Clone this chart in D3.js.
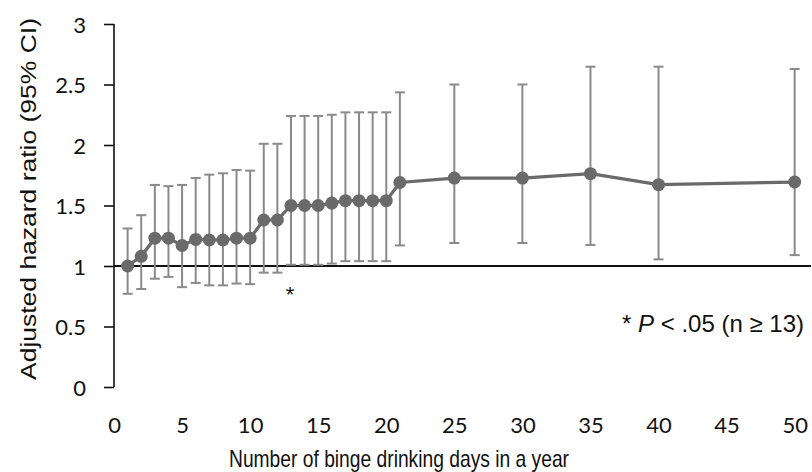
<!DOCTYPE html>
<html>
<head>
  <meta charset="utf-8">
  <title>Adjusted hazard ratio by binge drinking days</title>
  <script src="https://d3js.org/d3.v7.min.js"></script>
  <style>
    body { margin: 0; background: #fff; }
  </style>
</head>
<body>
  <div id="chart"></div>

  <script>
    // Data
    const days  = [1, 2, 3, 4, 5, 6, 7, 8, 9, 10, 11, 12, 13, 14, 15, 16, 17, 18, 19, 20, 21, 25, 30, 35, 40, 50];
    const hr    = [1.00, 1.08, 1.23, 1.23, 1.17, 1.22, 1.215, 1.215, 1.23, 1.23, 1.38, 1.38, 1.50, 1.50, 1.50, 1.52, 1.54, 1.54, 1.54, 1.54, 1.69, 1.727, 1.727, 1.763, 1.672, 1.694];
    const lower = [0.77, 0.81, 0.895, 0.91, 0.825, 0.86, 0.84, 0.84, 0.855, 0.85, 0.945, 0.945, 1.01, 1.01, 1.01, 1.02, 1.04, 1.04, 1.04, 1.04, 1.17, 1.19, 1.19, 1.174, 1.055, 1.09];
    const upper = [1.31, 1.42, 1.67, 1.66, 1.67, 1.727, 1.755, 1.766, 1.793, 1.788, 2.01, 2.01, 2.24, 2.24, 2.24, 2.25, 2.27, 2.27, 2.27, 2.27, 2.435, 2.50, 2.50, 2.647, 2.647, 2.628];
    const xTicks = [0, 5, 10, 15, 20, 25, 30, 35, 40, 45, 50];
    const yTicks = [0, 0.5, 1, 1.5, 2, 2.5, 3];
    const sigDay = 13;

    const data = days.map((d, i) => ({ day: d, hr: hr[i], lo: lower[i], hi: upper[i] }));

    const W = 812, H = 472;
    const svg = d3.select("#chart").append("svg")
      .attr("width", W).attr("height", H);

    const x = d3.scaleLinear().domain([0, 51.2]).range([114, 811]);
    const y = d3.scaleLinear().domain([0, 3]).range([387, 24]);

    const tickFont = "Lato, 'Open Sans', sans-serif";
    const textFont = "'Liberation Sans', Arial, sans-serif";

    // y axis
    const yAxis = svg.append("g")
      .attr("transform", "translate(" + x(0) + ",0)")
      .call(d3.axisLeft(y).tickValues(yTicks).tickSize(10).tickPadding(18)
        .tickFormat(d3.format("")));
    yAxis.select(".domain").attr("stroke", "#111").attr("stroke-width", 1.6)
      .attr("d", "M0," + y(3) + "V" + y(0));
    yAxis.selectAll(".tick line").attr("stroke", "#111").attr("stroke-width", 1.6);
    yAxis.selectAll(".tick text").attr("font-family", tickFont).attr("font-size", 22)
      .attr("fill", "#111").attr("dy", "0.38em");

    // x axis (labels only)
    const xAxis = svg.append("g")
      .attr("transform", "translate(0," + y(0) + ")")
      .call(d3.axisBottom(x).tickValues(xTicks).tickSize(0).tickPadding(30));
    xAxis.select(".domain").remove();
    xAxis.selectAll(".tick text").attr("font-family", tickFont).attr("font-size", 22)
      .attr("fill", "#111");

    // reference line at 1
    svg.append("line")
      .attr("x1", x(0)).attr("x2", x(51.2))
      .attr("y1", y(1)).attr("y2", y(1))
      .attr("stroke", "#111").attr("stroke-width", 2);

    // error bars
    const barColor = "#8a8a8a";
    const eb = svg.append("g").attr("stroke", barColor).attr("stroke-width", 2);
    eb.selectAll(".v").data(data).join("line")
      .attr("x1", d => x(d.day)).attr("x2", d => x(d.day))
      .attr("y1", d => y(d.lo)).attr("y2", d => y(d.hi));
    eb.selectAll(".capHi").data(data).join("line")
      .attr("x1", d => x(d.day) - 5).attr("x2", d => x(d.day) + 5)
      .attr("y1", d => y(d.hi)).attr("y2", d => y(d.hi));
    eb.selectAll(".capLo").data(data).join("line")
      .attr("x1", d => x(d.day) - 5).attr("x2", d => x(d.day) + 5)
      .attr("y1", d => y(d.lo)).attr("y2", d => y(d.lo));

    // line + markers
    const markColor = "#6a6a6a";
    svg.append("path").datum(data)
      .attr("fill", "none").attr("stroke", markColor).attr("stroke-width", 3.2)
      .attr("d", d3.line().x(d => x(d.day)).y(d => y(d.hr)));
    svg.append("g").selectAll("circle").data(data).join("circle")
      .attr("cx", d => x(d.day)).attr("cy", d => y(d.hr)).attr("r", 6.5)
      .attr("fill", markColor);

    // significance mark
    svg.append("text")
      .attr("x", x(sigDay) - 1).attr("y", y(1) + 36)
      .attr("text-anchor", "middle")
      .attr("font-family", textFont).attr("font-size", 22).attr("fill", "#111")
      .text("*");

    // note
    const note = svg.append("text")
      .attr("x", 804).attr("y", 332)
      .attr("text-anchor", "end")
      .attr("font-family", textFont).attr("font-size", 24).attr("fill", "#111");
    note.append("tspan").text("* ");
    note.append("tspan").attr("font-style", "italic").text("P");
    note.append("tspan").text(" < .05 (n \u2265 13)");

    // axis titles
    svg.append("text")
      .attr("transform", "translate(36,199) rotate(-90)")
      .attr("text-anchor", "middle")
      .attr("font-family", textFont).attr("font-size", 22).attr("fill", "#111")
      .attr("textLength", 362).attr("lengthAdjust", "spacingAndGlyphs")
      .text("Adjusted hazard ratio (95% CI)");

    svg.append("text")
      .attr("x", 399).attr("y", 467)
      .attr("text-anchor", "middle")
      .attr("font-family", textFont).attr("font-size", 24).attr("fill", "#111")
      .attr("textLength", 340).attr("lengthAdjust", "spacingAndGlyphs")
      .text("Number of binge drinking days in a year");
  </script>
</body>
</html>
